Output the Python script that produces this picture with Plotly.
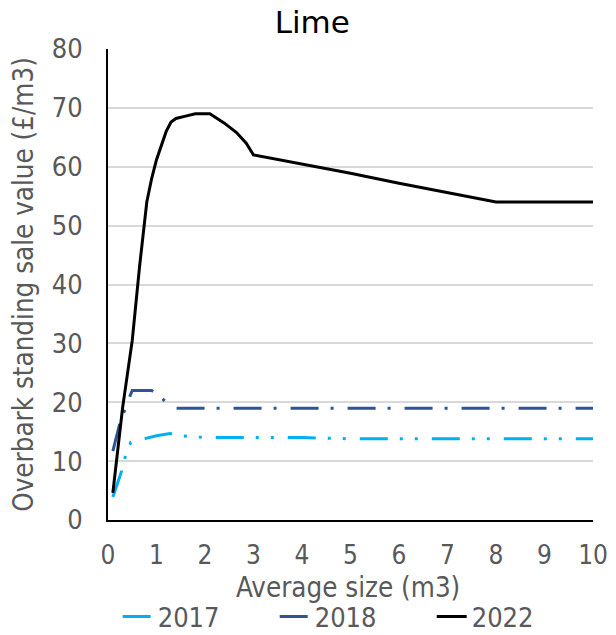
import plotly.graph_objects as go

# Average tree size (m3) and overbark standing sale value (£/m3) for lime
size_2017 = [0.1, 0.28, 0.35, 0.47, 0.8, 1.0, 1.28, 1.5, 2, 3, 4, 5, 6, 7, 8, 9, 10]
value_2017 = [3.9, 8.3, 10.6, 13.2, 13.9, 14.3, 14.7, 14.3, 14, 14, 14, 13.8, 13.8, 13.8, 13.8, 13.8, 13.8]

size_2018 = [0.1, 0.25, 0.45, 0.5, 0.9, 1.0, 1.2, 1.4, 2, 3, 4, 5, 6, 7, 8, 9, 10]
value_2018 = [11.7, 16.6, 21, 22, 22, 21.5, 20, 19, 19, 19, 19, 19, 19, 19, 19, 19, 19]

size_2022 = [0.1, 0.3, 0.5, 0.65, 0.8, 0.9, 1.0, 1.1, 1.2, 1.3, 1.4, 1.6, 1.8, 2.1,
             2.4, 2.65, 2.85, 3.0, 4, 5, 6, 7, 8, 9, 10]
value_2022 = [4.6, 19, 30.5, 43, 54, 58, 61.2, 63.8, 66, 67.6, 68.2, 68.6, 69, 69,
              67.4, 65.8, 64, 62, 60.5, 58.9, 57.2, 55.6, 54, 54, 54]

x_ticks = list(range(0, 11))
y_ticks = list(range(0, 90, 10))

FONT = "DejaVu Sans Condensed, DejaVu Sans, sans-serif"
TITLE_FONT = "DejaVu Sans, sans-serif"
GREY = "#595959"

fig = go.Figure()
fig.add_trace(go.Scatter(
    x=size_2017, y=value_2017, mode="lines", name="2017",
    line=dict(color="#00B0F0", width=3, dash="28px,12px,3px,12px,3px,14px"),
))
fig.add_trace(go.Scatter(
    x=size_2018, y=value_2018, mode="lines", name="2018",
    line=dict(color="#2F5597", width=3, dash="28px,12px,3px,14px"),
))
fig.add_trace(go.Scatter(
    x=size_2022, y=value_2022, mode="lines", name="2022",
    line=dict(color="#000000", width=3),
))

fig.update_layout(
    width=616, height=635,
    margin=dict(l=108, r=23, t=49, b=115, autoexpand=False),
    paper_bgcolor="white", plot_bgcolor="white",
    font=dict(family=FONT, size=27, color=GREY),
    title=dict(text="Lime", x=0.507, xanchor="center", y=0.965, yanchor="middle",
               font=dict(family=TITLE_FONT, size=31, color="#000000")),
    xaxis=dict(
        range=[0, 10], tickvals=x_ticks, showgrid=False, zeroline=False,
        showline=True, linecolor="#000000", linewidth=2, ticks="",
        ticklabelstandoff=11, tickfont=dict(size=26), automargin=False,
    ),
    yaxis=dict(
        range=[0, 80], tickvals=y_ticks, showgrid=True, gridcolor="#D9D9D9",
        gridwidth=1.5, zeroline=False, showline=True, linecolor="#000000",
        linewidth=2, ticks="", ticklabelstandoff=18, tickfont=dict(size=27),
        automargin=False,
        title=dict(text="Overbark standing sale value (£/m3)", standoff=10,
                   font=dict(family=FONT, size=27.5, color=GREY)),
    ),
    annotations=[dict(
        text="Average size (m3)", xref="paper", yref="paper",
        x=0.495, xanchor="center", y=-0.142, yanchor="middle", showarrow=False,
        font=dict(family=FONT, size=27.5, color=GREY),
    )],
    legend=dict(orientation="h", x=0.02, xanchor="left", y=-0.206, yanchor="middle",
                font=dict(family=FONT, size=27, color=GREY), entrywidth=112,
                traceorder="normal"),
    showlegend=True,
)

fig.write_html("out.html")
